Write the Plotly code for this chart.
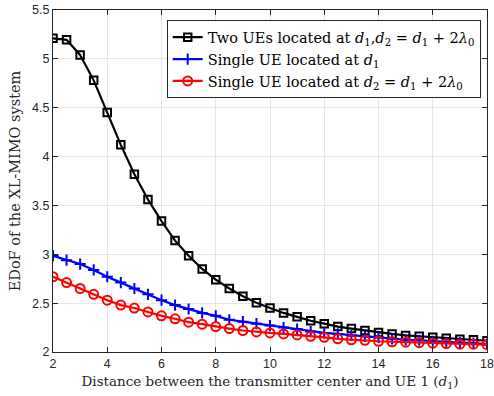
import plotly.graph_objects as go

x = [2 + 0.5 * i for i in range(33)]

two_ues = [5.21, 5.195, 5.04, 4.78, 4.45, 4.12, 3.82, 3.56, 3.34, 3.14, 2.985, 2.85, 2.74,
           2.65, 2.57, 2.505, 2.45, 2.40, 2.36, 2.32, 2.29, 2.26, 2.24, 2.22, 2.20, 2.185,
           2.17, 2.16, 2.15, 2.14, 2.13, 2.125, 2.115]
single_d1 = [2.985, 2.94, 2.90, 2.84, 2.77, 2.71, 2.65, 2.59, 2.53, 2.48, 2.44, 2.40, 2.37,
             2.33, 2.31, 2.29, 2.27, 2.25, 2.235, 2.21, 2.195, 2.185, 2.17, 2.16, 2.15, 2.135,
             2.125, 2.12, 2.11, 2.10, 2.095, 2.09, 2.08]
single_d2 = [2.77, 2.71, 2.65, 2.59, 2.53, 2.48, 2.45, 2.41, 2.37, 2.34, 2.305, 2.285, 2.26,
             2.24, 2.22, 2.205, 2.195, 2.185, 2.175, 2.16, 2.15, 2.135, 2.125, 2.12, 2.11,
             2.105, 2.10, 2.095, 2.09, 2.085, 2.08, 2.08, 2.075]

names = [
    "Two UEs located at <i>d</i><sub>1</sub>,<i>d</i><sub>2</sub> = <i>d</i><sub>1</sub> + 2<i>λ</i><sub>0</sub>",
    "Single UE located at <i>d</i><sub>1</sub>",
    "Single UE located at <i>d</i><sub>2</sub> = <i>d</i><sub>1</sub> + 2<i>λ</i><sub>0</sub>",
]

fig = go.Figure()
fig.add_trace(go.Scatter(x=x, y=two_ues, mode="lines+markers", name=names[0],
                         line=dict(color="black", width=2.2),
                         marker=dict(symbol="square-open", size=7.5, color="black",
                                     line=dict(width=2, color="black"))))
fig.add_trace(go.Scatter(x=x, y=single_d1, mode="lines+markers", name=names[1],
                         line=dict(color="blue", width=2.2),
                         marker=dict(symbol="cross-thin-open", size=8, color="blue",
                                     line=dict(width=2, color="blue"))))
fig.add_trace(go.Scatter(x=x, y=single_d2, mode="lines+markers", name=names[2],
                         line=dict(color="red", width=2.2),
                         marker=dict(symbol="circle-open", size=9, color="red",
                                     line=dict(width=2, color="red"))))

serif = "DejaVu Serif, Liberation Serif, serif"
axis_common = dict(showline=True, linecolor="#262626", linewidth=1, mirror="ticks",
                   ticks="inside", ticklen=5, tickcolor="#262626", automargin=False,
                   showgrid=True, gridcolor="#e6e6e6", gridwidth=1, zeroline=False,
                   tickfont=dict(family="Liberation Sans, Arial, sans-serif", size=12.5, color="#262626"))

fig.update_xaxes(range=[2, 18], tickvals=[2, 4, 6, 8, 10, 12, 14, 16, 18],
                 title=dict(text="Distance between the transmitter center and UE 1 (<i>d</i><sub>1</sub>)",
                            font=dict(family=serif, size=13.5, color="#262626"),
                            standoff=6),
                 **axis_common)
fig.update_yaxes(range=[2, 5.5], tickvals=[2, 2.5, 3, 3.5, 4, 4.5, 5, 5.5],
                 title=dict(text="EDoF of the XL-MIMO system",
                            font=dict(family=serif, size=14.5, color="#262626"),
                            standoff=8),
                 **axis_common)

fig.update_layout(
    width=494, height=396,
    margin=dict(l=53, r=7, t=10, b=44),
    plot_bgcolor="white", paper_bgcolor="white",
    legend=dict(x=0.262, y=0.97, xanchor="left", yanchor="top",
                bgcolor="white", bordercolor="#262626", borderwidth=1,
                font=dict(family=serif, size=14.5, color="black"),
                tracegroupgap=0, itemwidth=30),
    showlegend=True,
)

fig.write_html("out.html", config={"displayModeBar": False},
               post_script="document.body.style.margin='0';document.body.style.overflow='hidden';")
